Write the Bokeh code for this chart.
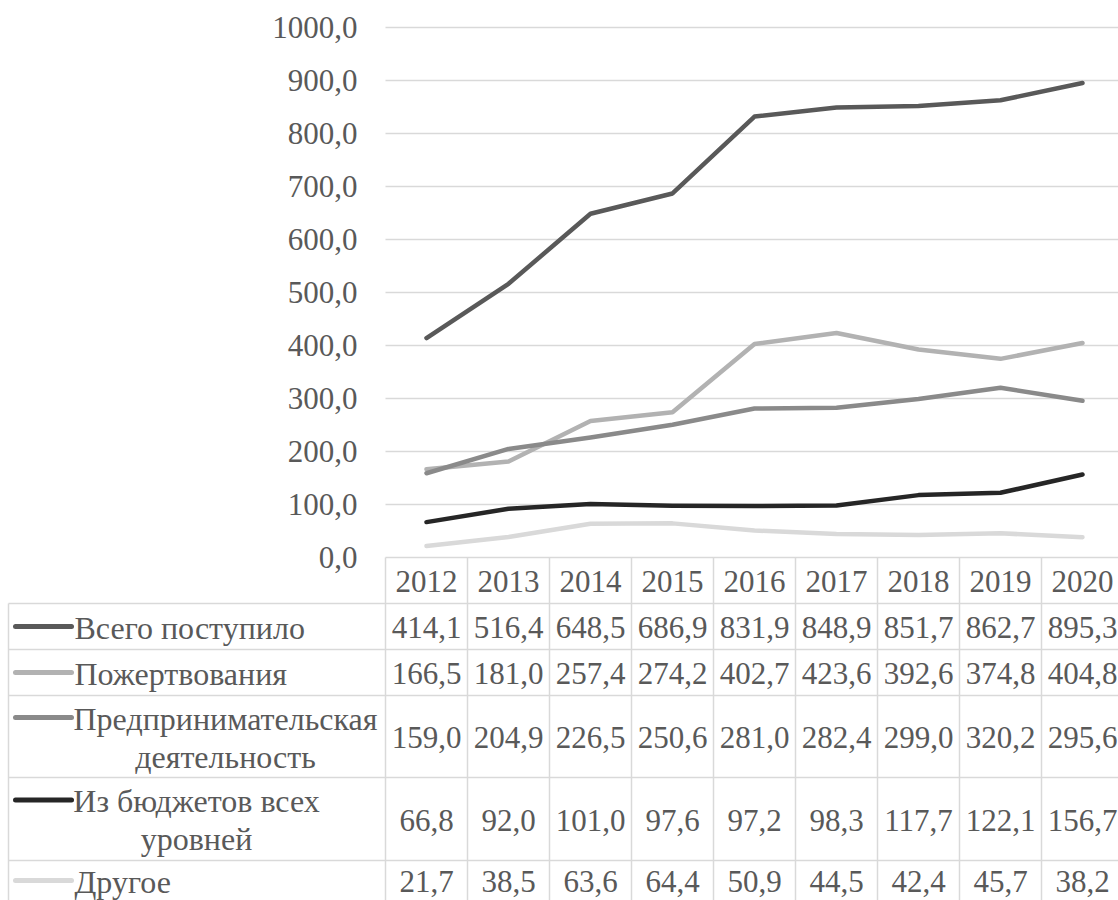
from bokeh.plotting import figure
from bokeh.models import Range1d
from bokeh.core.properties import value
from bokeh.embed import file_html
from bokeh.resources import INLINE

# ---- data -------------------------------------------------------------
years = ["2012", "2013", "2014", "2015", "2016", "2017", "2018", "2019", "2020"]

total = [414.1, 516.4, 648.5, 686.9, 831.9, 848.9, 851.7, 862.7, 895.3]
donations = [166.5, 181.0, 257.4, 274.2, 402.7, 423.6, 392.6, 374.8, 404.8]
business = [159.0, 204.9, 226.5, 250.6, 281.0, 282.4, 299.0, 320.2, 295.6]
budgets = [66.8, 92.0, 101.0, 97.6, 97.2, 98.3, 117.7, 122.1, 156.7]
other = [21.7, 38.5, 63.6, 64.4, 50.9, 44.5, 42.4, 45.7, 38.2]

series_names = [
    ["Всего поступило"],
    ["Пожертвования"],
    ["Предпринимательская", "деятельность"],
    ["Из бюджетов всех", "уровней"],
    ["Другое"],
]
series_values = [total, donations, business, budgets, other]
series_colors = ["#595959", "#b2b2b2", "#8a8a8a", "#262626", "#d9d9d9"]

y_ticks = [0, 100, 200, 300, 400, 500, 600, 700, 800, 900, 1000]


def fmt(v):
    return f"{v:.1f}".replace(".", ",")


# ---- layout (pixels) --------------------------------------------------
W, H = 1118, 900
PLOT_LEFT = 385          # left edge of plot area / first table column
COL_W = 82               # width of one year column
ZERO_Y = 557             # pixel row of value 0 (from top)
PX_PER_UNIT = 0.53       # vertical pixels per value unit
TABLE_LEFT = 8
HEADER_BOTTOM = 603
ROW_BOUNDS = [603, 649, 695, 777, 860, 900]
KEY_X0, KEY_X1 = 15, 71
LABEL_X = 74
LINE_GAP = 38
BLOCK_CENTER = {2: 225, 3: 196}   # centre of two-line legend labels

FONT = value("Liberation Serif")
FONT_SIZE = "31px"
LABEL_FONT_SIZE = "32px"
TEXT_COLOR = "#595959"
BORDER = "#d9d9d9"

n = len(years)
idx = list(range(n))
x0_px = PLOT_LEFT + COL_W / 2
x_start = -x0_px / COL_W
x_end = (W - x0_px) / COL_W
y_start = -(H - ZERO_Y) / PX_PER_UNIT
y_end = ZERO_Y / PX_PER_UNIT

p = figure(
    width=W, height=H,
    x_range=Range1d(x_start, x_end), y_range=Range1d(y_start, y_end),
    x_axis_location=None, y_axis_location=None,
    output_backend="svg", toolbar_location=None,
    min_border=0, outline_line_color=None,
    background_fill_color="white", border_fill_color="white",
)
p.xgrid.visible = False
p.ygrid.visible = False
p.extra_x_ranges = {"px": Range1d(0, W)}
p.extra_y_ranges = {"py": Range1d(H, 0)}

# horizontal gridlines of the value axis
grid_vals = [t for t in y_ticks if t > 0]
p.segment(x0=[-0.5] * len(grid_vals), x1=[x_end + 1] * len(grid_vals),
          y0=grid_vals, y1=grid_vals, line_color=BORDER, line_width=1.3)

# value-axis tick labels
p.text(x=[PLOT_LEFT - 28] * len(y_ticks), y=y_ticks, text=[fmt(t) for t in y_ticks],
       x_range_name="px", text_font=FONT, text_font_size=FONT_SIZE,
       text_color=TEXT_COLOR, text_align="right", text_baseline="middle")

# ---- data table grid --------------------------------------------------
# top line (category axis), header bottom and row separators
hx0 = [PLOT_LEFT, TABLE_LEFT] + [TABLE_LEFT] * (len(ROW_BOUNDS) - 2)
hy = [ZERO_Y, HEADER_BOTTOM] + ROW_BOUNDS[1:-1]
hx1 = [W + 10] * len(hx0)
p.segment(x0=hx0, x1=hx1, y0=hy, y1=hy, x_range_name="px", y_range_name="py",
          line_color=BORDER, line_width=1.5)
vx = [TABLE_LEFT] + [PLOT_LEFT + COL_W * k for k in range(n + 1)]
vy0 = [HEADER_BOTTOM] + [ZERO_Y] * (n + 1)
vy1 = [H + 10] * len(vx)
p.segment(x0=vx, x1=vx, y0=vy0, y1=vy1, x_range_name="px", y_range_name="py",
          line_color=BORDER, line_width=1.5)

# header: years
p.text(x=idx, y=[(ZERO_Y + HEADER_BOTTOM) / 2 + 1] * n, text=years, y_range_name="py",
       text_font=FONT, text_font_size=FONT_SIZE, text_color=TEXT_COLOR,
       text_align="center", text_baseline="middle")

# ---- series lines and table rows ------------------------------------
for i, (names, vals, col) in enumerate(zip(series_names, series_values, series_colors)):
    p.line(x=idx, y=vals, line_color=col, line_width=4.5,
           line_join="round", line_cap="round")

    top, bottom = ROW_BOUNDS[i], ROW_BOUNDS[i + 1]
    mid = (top + bottom) / 2
    first_y = mid if len(names) == 1 else mid - LINE_GAP / 2

    # legend key
    p.segment(x0=[KEY_X0], x1=[KEY_X1], y0=[first_y], y1=[first_y],
              x_range_name="px", y_range_name="py",
              line_color=col, line_width=5, line_cap="round")

    # series label
    if len(names) == 1:
        p.text(x=[LABEL_X], y=[first_y + 1], text=names, x_range_name="px", y_range_name="py",
               text_font=FONT, text_font_size=LABEL_FONT_SIZE, text_color=TEXT_COLOR,
               text_align="left", text_baseline="middle")
    else:
        cx = BLOCK_CENTER[i]
        p.text(x=[cx] * len(names), y=[first_y + 1 + LINE_GAP * k for k in range(len(names))],
               text=names, x_range_name="px", y_range_name="py",
               text_font=FONT, text_font_size=LABEL_FONT_SIZE, text_color=TEXT_COLOR,
               text_align="center", text_baseline="middle")

    # values
    p.text(x=idx, y=[mid + 1] * n, text=[fmt(v) for v in vals], y_range_name="py",
           text_font=FONT, text_font_size=FONT_SIZE, text_color=TEXT_COLOR,
           text_align="center", text_baseline="middle")

open("out.html", "w").write(file_html(p, INLINE))
